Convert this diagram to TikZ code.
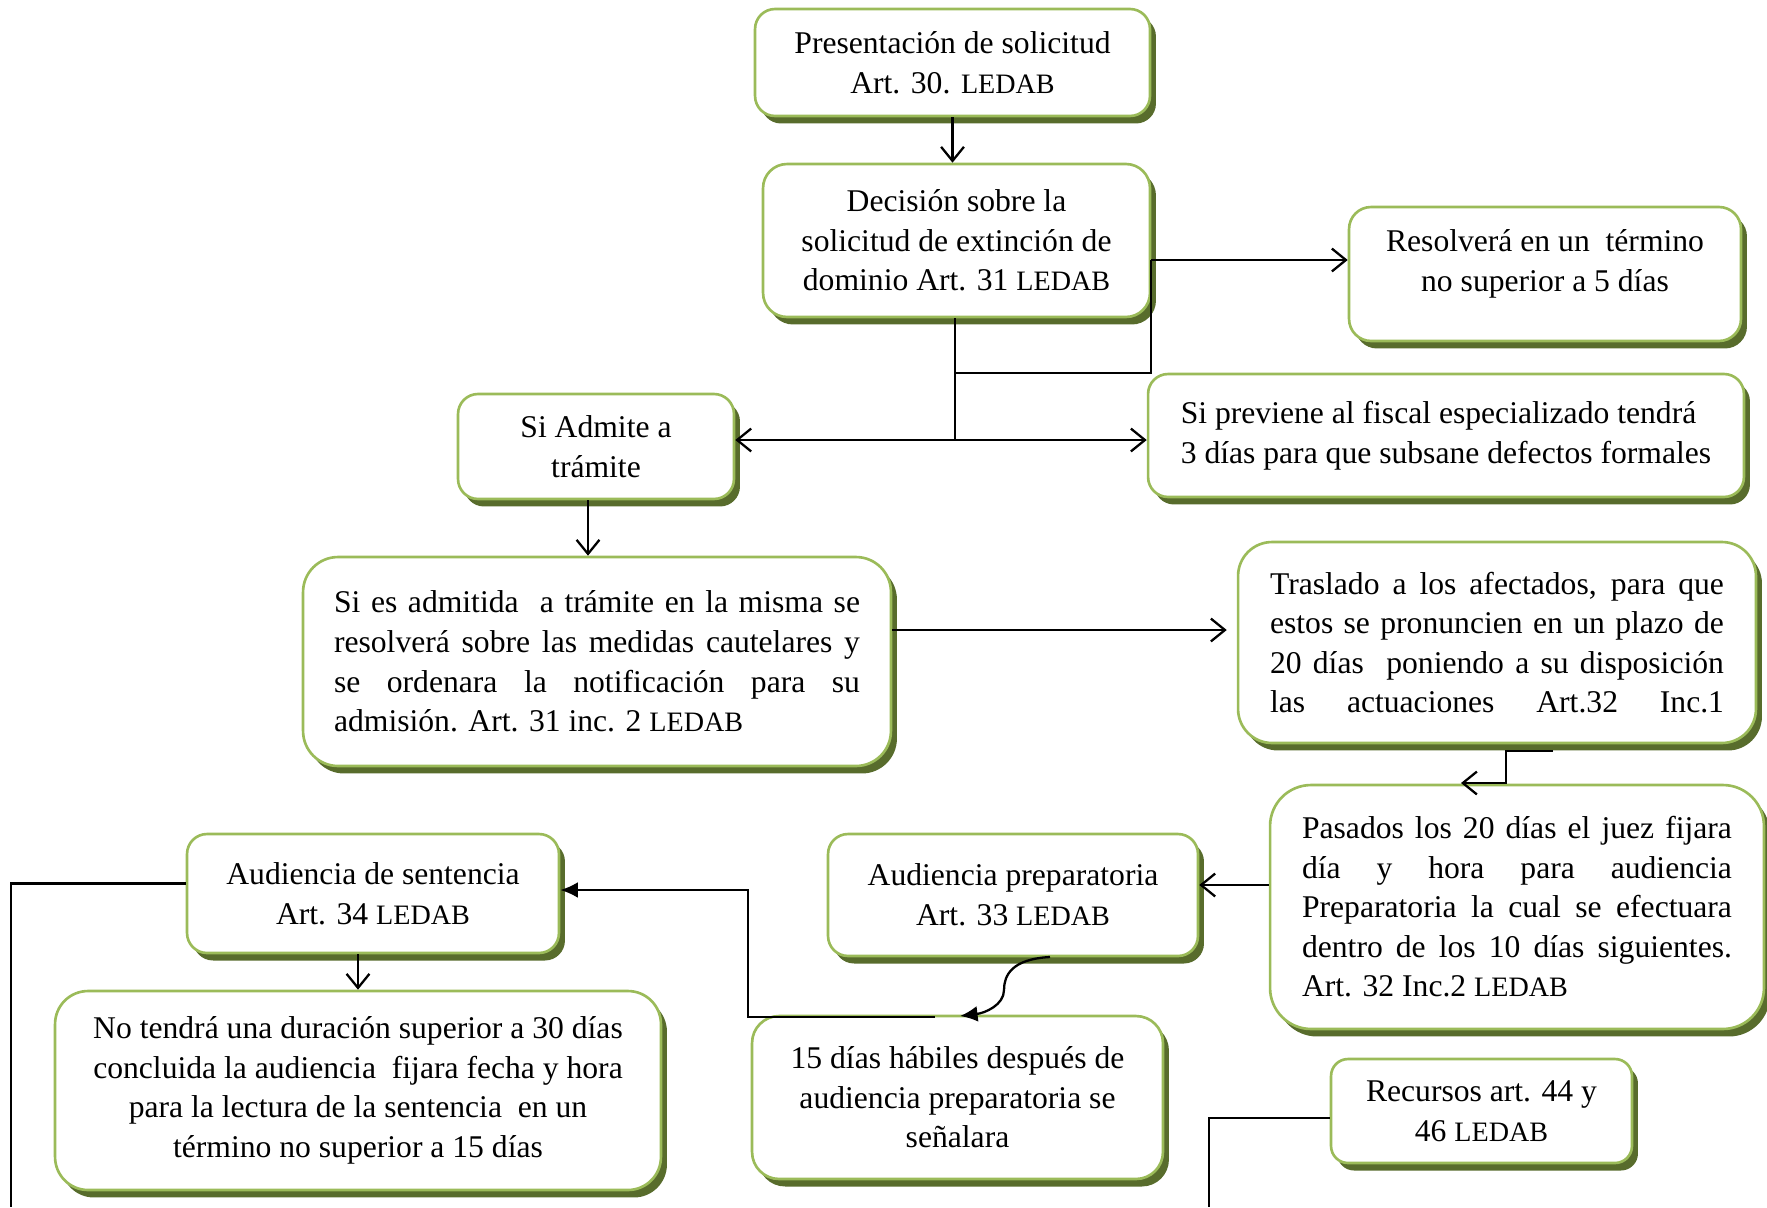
\documentclass[tikz,border=0pt]{standalone}
\usepackage{fontspec}
\setmainfont{Liberation Serif}
\usetikzlibrary{arrows.meta,shadows}
\definecolor{borde}{RGB}{155,187,89}
\definecolor{sombra}{RGB}{88,108,44}
\newcommand{\ledab}{{\fontsize{16}{22.5}\selectfont LEDAB}}
\newcommand{\renglon}[2]{\makebox[#1][s]{#2}}
\tikzset{
  caja/.style={draw=borde, line width=1.5pt, fill=white, rounded corners=0.4cm,
    align=center, inner sep=0pt, font=\fontsize{18}{22.5}\selectfont,
    drop shadow={shadow xshift=0.12cm, shadow yshift=-0.15cm, fill=sombra, opacity=1}},
  conector/.style={line width=1.3pt},
  flecha/.style={conector, -{Straight Barb[length=8pt,width=13pt]}},
  flechadoble/.style={conector, {Straight Barb[length=8pt,width=13pt]}-{Straight Barb[length=8pt,width=13pt]}},
  flechallena/.style={conector, -{Latex[length=10pt,width=9pt]}},
}
\begin{document}
\begin{tikzpicture}[x=0.02cm,y=-0.02cm]
\useasboundingbox (0,0) rectangle (1767,1207);
% the boxes, top to bottom
\node[caja, minimum width=7.9cm, minimum height=2.14cm] (pres) at (952.5,62.5) {Presentación de solicitud\\Art. 30. \ledab};
\node[caja, rounded corners=0.48cm, minimum width=7.74cm, minimum height=3.06cm] (deci) at (956.5,240.5) {Decisión sobre la\\solicitud de extinción de\\dominio Art. 31 \ledab};
\node[caja, rounded corners=0.44cm, text depth=0.55cm, minimum width=7.84cm, minimum height=2.68cm] (reso) at (1545,274) {Resolverá en un\ \ término\\no superior a 5 días};
\node[caja, align=left, minimum width=11.92cm, minimum height=2.46cm] (prev) at (1446,435.5) {Si previene al fiscal especializado tendrá\\3 días para que subsane defectos formales};
\node[caja, minimum width=5.52cm, minimum height=2.1cm] (admi) at (596,446.5) {Si Admite a\\trámite};
\node[caja, rounded corners=0.7cm, align=left, minimum width=11.76cm, minimum height=4.18cm] (admt) at (597,661.5) {%
  \renglon{10.52cm}{Si es admitida\ \ a trámite en la misma se}\\
  \renglon{10.52cm}{resolverá sobre las medidas cautelares y}\\
  \renglon{10.52cm}{se ordenara la notificación para su}\\
  admisión. Art. 31 inc. 2 \ledab};
\node[caja, rounded corners=0.68cm, align=left, minimum width=10.36cm, minimum height=4.02cm] (tras) at (1497,642.5) {%
  \renglon{9.08cm}{Traslado a los afectados, para que}\\
  \renglon{9.08cm}{estos se pronuncien en un plazo de}\\
  \renglon{9.08cm}{20 días\ \ poniendo a su disposición}\\
  \renglon{9.08cm}{las actuaciones Art.32 Inc.1}};
\node[caja, rounded corners=0.82cm, align=left, minimum width=9.88cm, minimum height=4.88cm] (pasa) at (1517,907) {%
  \renglon{8.6cm}{Pasados los 20 días el juez fijara}\\
  \renglon{8.6cm}{día y hora para audiencia}\\
  \renglon{8.6cm}{Preparatoria la cual se efectuara}\\
  \renglon{8.6cm}{dentro de los 10 días siguientes.}\\
  Art. 32 Inc.2 \ledab};
\node[caja, minimum width=7.4cm, minimum height=2.44cm] (prep) at (1013,895) {Audiencia preparatoria\\Art. 33 \ledab};
\node[caja, minimum width=7.44cm, minimum height=2.38cm] (sent) at (373,893.5) {Audiencia de sentencia\\Art. 34 \ledab};
\node[caja, rounded corners=0.66cm, minimum width=12.12cm, minimum height=3.98cm] (dura) at (358,1090.5) {No tendrá una duración superior a 30 días\\concluida la audiencia\ \ fijara fecha y hora\\para la lectura de la sentencia\ \ en un\\término no superior a 15 días};
\node[caja, rounded corners=0.54cm, minimum width=8.22cm, minimum height=3.26cm] (quin) at (957.5,1097.5) {15 días hábiles después de\\audiencia preparatoria se\\señalara};
\node[caja, rounded corners=0.34cm, minimum width=6.02cm, minimum height=2.08cm] (recu) at (1481.5,1111) {Recursos art. 44 y\\46 \ledab};
% connectors
\draw[flecha] (pres.south) -- (pres.south |- deci.north);
\coordinate (rr) at ([yshift=0.28cm]reso.west);
\draw[flecha] (deci.east |- rr) -- (rr);
\coordinate (codo) at (955,373);
\draw[conector] (deci.east |- rr) |- (codo);
\coordinate (cruce) at (955,440);
\draw[conector] (deci.south -| codo) -- (cruce);
\draw[flechadoble] (admi.east |- cruce) -- (prev.west |- cruce);
\coordinate (a1) at ([xshift=-0.16cm]admi.south);
\draw[flecha] (a1) -- (a1 |- admt.north);
\coordinate (t1) at ([yshift=0.25cm,xshift=-0.2cm]tras.west);
\draw[flecha] (admt.east |- t1) -- (t1);
\coordinate (s1) at (1553,751); \coordinate (s2) at (1461,783);
\draw[flecha] (s1) -| (1506,783) -- (s2);
\coordinate (p1) at ([yshift=0.2cm]prep.east);
\draw[flecha] (pasa.west |- p1) -- (p1);
\coordinate (c1) at (1050,957); \coordinate (c2) at (960,1016);
\draw[flechallena] (c1) .. controls (1012,959) and (1004,975) .. (1004,990) .. controls (1004,1005) and (985,1013) .. (c2);
\coordinate (q1) at (935,1017); \coordinate (q2) at (748,890);
\draw[flechallena] (q1) -| (q2) -- (q2 -| sent.east);
\draw[flecha] (dura.north |- sent.south) -- (dura.north);
\coordinate (l1) at ([yshift=0.2cm]sent.west); \coordinate (fin1) at (11,1207);
\draw[conector] (l1) -| (fin1);
\coordinate (r1) at ([yshift=-0.14cm]recu.west); \coordinate (fin2) at (1209,1207);
\draw[conector, line width=0.9pt] (r1) -| (fin2);
\end{tikzpicture}
\end{document}
